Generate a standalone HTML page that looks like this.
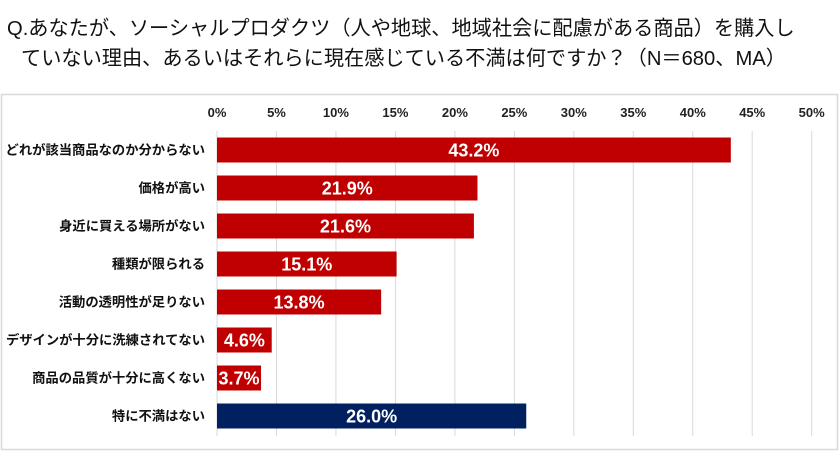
<!DOCTYPE html>
<html><head><meta charset="utf-8"><style>
body{margin:0;width:840px;height:473px;background:#fff;overflow:hidden;font-family:"Liberation Sans","Noto Sans CJK JP",sans-serif}
.t{position:absolute;font-size:20.2px;color:#111;white-space:nowrap}
</style></head><body>
<div class="t" style="left:7px;top:12px">Q.あなたが、ソーシャルプロダクツ（人や地球、地域社会に配慮がある商品）を購入し</div>
<div class="t" style="left:21px;top:42px">ていない理由、あるいはそれらに現在感じている不満は何ですか？（N＝680、MA）</div>
<svg id="c" width="840" height="473" style="position:absolute;left:0;top:0" font-family="Liberation Sans, Noto Sans CJK JP, sans-serif">
<rect x="1.5" y="94.5" width="836" height="355" fill="none" stroke="#d9d9d9" stroke-width="1.5"/>
</svg>
<script>
const categories=["どれが該当商品なのか分からない","価格が高い","身近に買える場所がない","種類が限られる","活動の透明性が足りない","デザインが十分に洗練されてない","商品の品質が十分に高くない","特に不満はない"];
const values=[43.2,21.9,21.6,15.1,13.8,4.6,3.7,26.0];
const valueLabels=["43.2%","21.9%","21.6%","15.1%","13.8%","4.6%","3.7%","26.0%"];
const ticks=[0,5,10,15,20,25,30,35,40,45,50];
const tickLabels=["0%","5%","10%","15%","20%","25%","30%","35%","40%","45%","50%"];
const svg=document.getElementById('c');const NS="http://www.w3.org/2000/svg";
const x=v=>217+v*(811.7-217)/50;
const yc=i=>150+i*38;
function mk(t,a){const e=document.createElementNS(NS,t);for(const k in a)e.setAttribute(k,a[k]);svg.appendChild(e);return e;}
ticks.forEach((t,i)=>{
 const l=mk('line',{x1:x(t),x2:x(t),y1:131,y2:436,stroke:'#d9d9d9','stroke-width':1});
 
 
 const tx=mk('text',{x:x(t),y:117,'text-anchor':'middle','font-size':13,'font-weight':'bold',fill:'#222'});
 tx.textContent=tickLabels[i];
 
 
});
values.forEach((v,i)=>{
 const r=mk('rect',{x:x(0),y:yc(i)-12.5,width:x(v)-x(0),height:25,fill:i===7?'#002060':'#c00000'});
 
 
 const lb=mk('text',{x:205,y:yc(i)+4.5,'text-anchor':'end','font-size':13.3,'font-weight':'bold',fill:'#111'});
 lb.textContent=categories[i];
 
 
 const vl=mk('text',{x:(x(0)+x(v))/2,y:yc(i)+6.5,'text-anchor':'middle','font-size':18,'font-weight':'bold',fill:'#fff'});
 vl.textContent=valueLabels[i];
 
 
});
</script>
</body></html>
